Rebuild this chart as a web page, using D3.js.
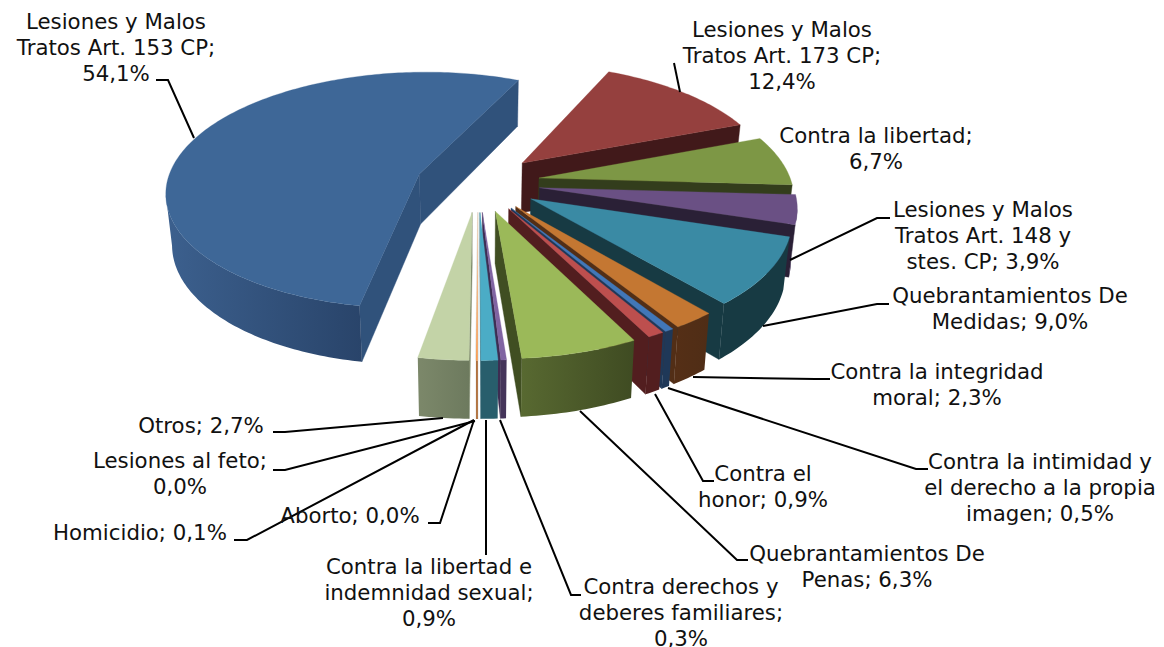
<!DOCTYPE html>
<html>
<head>
<meta charset="utf-8">
<style>
  html, body { margin: 0; padding: 0; background: #fff; overflow: hidden; }
  text { font-family: "DejaVu Sans", Verdana, sans-serif; font-size: 21.3px; fill: #111; }
</style>
<script src="https://cdn.jsdelivr.net/npm/d3@7"></script>
</head>
<body>
<div id="chart"></div>
<script>
// Chart data (clockwise, starting with the big slice)
const categories = [
    "Lesiones y Malos Tratos Art. 153 CP",
    "Lesiones y Malos Tratos Art. 173 CP",
    "Contra la libertad",
    "Lesiones y Malos Tratos Art. 148 y stes. CP",
    "Quebrantamientos De Medidas",
    "Contra la integridad moral",
    "Contra la intimidad y el derecho a la propia imagen",
    "Contra el honor",
    "Quebrantamientos De Penas",
    "Contra derechos y deberes familiares",
    "Contra la libertad e indemnidad sexual",
    "Aborto",
    "Homicidio",
    "Lesiones al feto",
    "Otros",
];
const percents = [54.1, 12.4, 6.7, 3.9, 9.0, 2.3, 0.5, 0.9, 6.3, 0.3, 0.9, 0.02, 0.1, 0.02, 2.7];

// Slice colours: top face, radial wall, outer wall left, outer wall right
const topColors = ["#3e6797", "#95403e", "#7d9745", "#6a5084", "#3a8aa4", "#c47732", "#4177b8", "#bd4f4e", "#9bb959", "#8064a2", "#4bacc6", "#dbeef4", "#f79646", "#dbeef4", "#c3d3a7"];
const sideColors = ["#30527b", "#41191a", "#333d1c", "#2a2036", "#173a43", "#522e16", "#1f3858", "#521e1f", "#404e22", "#3d2d52", "#285e6c", "#eeeeee", "#a8622a", "#eeeeee", "#7a8668"];
const wallLeft = ["#3c608e", "#41191a", "#333d1c", "#46345c", "#173a43", "#552f16", "#1f3858", "#521e1f", "#586931", "#45355a", "#285e6c", "#eeeeee", "#a8622a", "#eeeeee", "#7c886a"];
const wallRight = ["#29446a", "#41191a", "#333d1c", "#3a2b4e", "#173a43", "#4f2d16", "#1f3858", "#521e1f", "#3f4b22", "#45355a", "#285e6c", "#eeeeee", "#a8622a", "#eeeeee", "#6d7a5e"];

// Label text lines, centre x, first baseline
const labelLines = [
    ["Lesiones y Malos", "Tratos Art. 153 CP;"],
    ["Lesiones y Malos", "Tratos Art. 173 CP;"],
    ["Contra la libertad;"],
    ["Lesiones y Malos", "Tratos Art. 148 y", "stes. CP;"],
    ["Quebrantamientos De", "Medidas;"],
    ["Contra la integridad", "moral;"],
    ["Contra la intimidad y", "el derecho a la propia", "imagen;"],
    ["Contra el", "honor;"],
    ["Quebrantamientos De", "Penas;"],
    ["Contra derechos y", "deberes familiares;"],
    ["Contra la libertad e", "indemnidad sexual;"],
    ["Aborto;"],
    ["Homicidio;"],
    ["Lesiones al feto;"],
    ["Otros;"],
];
// Does the percent sit on its own line?
const percentOwnLine = [true, true, true, false, false, false, false, false, false, true, true, false, false, true, false];
const labelX = [116, 782, 876, 983, 1010, 937, 1040, 763, 867, 681, 429, 350, 140, 180, 201];
const labelY = [29, 37, 143, 217, 303, 379, 469, 481, 561, 594, 574, 523, 540, 468, 433];
const leaderLines = [
    [[156, 80], [168, 80], [194, 138]],
    [[674, 63], [680, 92]],
    null,
    [[890, 218], [877, 218], [790, 260]],
    [[889, 304], [877, 304], [763, 326]],
    [[830, 379], [815, 379], [693, 377]],
    [[928, 469], [916, 469], [668, 388]],
    [[714, 481], [703, 481], [655, 394]],
    [[748, 560], [737, 560], [580, 411]],
    [[581, 595], [571, 595], [500, 420]],
    [[486, 555], [486, 420]],
    [[428, 523], [440, 523], [474, 420]],
    [[234, 540], [247, 540], [474, 420]],
    [[273, 470], [285, 470], [475, 421]],
    [[273, 432], [285, 432], [443, 418]],
];

const width = 1164;
const height = 647;

// Pie geometry in the plane, then a small perspective to the screen
const cx = 478;
const cy = 182.5;
const radius = 252.5;
const explode = 62;
const tilt = 0.468;
const persp = 0.00055;
const depth = 50.5;
const startDeg = 190.1;

function project(u, v, bottom) {
    const f = 1 / (1 - persp * v);
    let x = cx + u * f;
    let y = cy + tilt * v * f;
    if (bottom) {
        x = cx + (x - cx) * 0.98;
        y += depth * (1 + (f - 1) * 0.75);
    }
    return [x, y];
}

const pie = d3.pie().sort(null)
    .startAngle(startDeg * Math.PI / 180)
    .endAngle(startDeg * Math.PI / 180 + 2 * Math.PI);
const arcs = pie(percents);

const svg = d3.select("#chart").append("svg")
    .attr("width", width)
    .attr("height", height)
    .style("display", "block");
const defs = svg.append("defs");
const line = d3.line();
const closed = (pts) => line(pts) + "Z";

function sliceShape(d) {
    const mid = (d.startAngle + d.endAngle) / 2;
    const ou = explode * Math.sin(mid);
    const ov = -explode * Math.cos(mid);
    const steps = Math.max(2, Math.ceil((d.endAngle - d.startAngle) * 180 / Math.PI));
    const angles = d3.range(steps + 1).map((i) => d.startAngle + (d.endAngle - d.startAngle) * i / steps);
    const planar = angles.map((a) => [ou + radius * Math.sin(a), ov - radius * Math.cos(a)]);
    return {
        mid,
        apexTop: project(ou, ov, false),
        apexBottom: project(ou, ov, true),
        rimTop: planar.map((p) => project(p[0], p[1], false)),
        rimBottom: planar.map((p) => project(p[0], p[1], true)),
    };
}

// A radial wall shows when the side facing down is outside of the slice
function wallVisible(a, b, inside) {
    const ex = b[0] - a[0];
    const ey = b[1] - a[1];
    const sideIn = ex * (inside[1] - a[1]) - ey * (inside[0] - a[0]);
    return sideIn * ex > 0 ? false : true;
}

// Back slices first
const order = d3.range(arcs.length).sort((i, j) => {
    return Math.cos((arcs[j].startAngle + arcs[j].endAngle) / 2) - Math.cos((arcs[i].startAngle + arcs[i].endAngle) / 2) > 0 ? 1 : -1;
});

const pieGroup = svg.append("g");
order.forEach((i) => {
    const s = sliceShape(arcs[i]);
    const g = pieGroup.append("g");
    const n = s.rimTop.length - 1;
    const inside = s.rimTop[Math.round(n / 2)];

    // radial walls
    [[0, 0], [n, n]].forEach(([a]) => {
        const rimT = s.rimTop[a];
        const rimB = s.rimBottom[a];
        if (wallVisible(s.apexTop, rimT, inside)) {
            g.append("path")
                .attr("d", closed([s.apexTop, rimT, rimB, s.apexBottom]))
                .attr("fill", sideColors[i])
                .attr("stroke", sideColors[i])
                .attr("stroke-width", 0.4);
        }
    });

    // outer wall, only where the rim runs to the left on screen
    const front = d3.range(n).filter((k) => s.rimTop[k + 1][0] < s.rimTop[k][0]);
    if (front.length) {
        const from = front[0];
        const to = front[front.length - 1] + 1;
        const topPts = s.rimTop.slice(from, to + 1);
        const botPts = s.rimBottom.slice(from, to + 1).reverse();
        const gradId = "wall" + i;
        const grad = defs.append("linearGradient").attr("id", gradId);
        grad.append("stop").attr("offset", "0%").attr("stop-color", wallLeft[i]);
        grad.append("stop").attr("offset", "100%").attr("stop-color", wallRight[i]);
        g.append("path")
            .attr("d", closed(topPts.concat(botPts)))
            .attr("fill", `url(#${gradId})`);
    }

    // top face
    g.append("path")
        .attr("d", closed([s.apexTop].concat(s.rimTop)))
        .attr("fill", topColors[i])
        .attr("stroke", topColors[i])
        .attr("stroke-width", 0.3);
});

// Leader lines
svg.append("g")
    .selectAll("path")
    .data(leaderLines.filter((d) => d))
    .enter()
    .append("path")
    .attr("d", (d) => line(d))
    .attr("fill", "none")
    .attr("stroke", "#000")
    .attr("stroke-width", 2);

// Data labels
const fmt = (v) => v.toFixed(1).replace(".", ",") + "%";
const labels = svg.append("g");
categories.forEach((name, i) => {
    const lines = labelLines[i].slice();
    const pct = fmt(percents[i]);
    if (percentOwnLine[i]) {
        lines.push(pct);
    } else {
        lines[lines.length - 1] += " " + pct;
    }
    const text = labels.append("text")
        .attr("text-anchor", "middle")
        .attr("y", labelY[i]);
    lines.forEach((t, k) => {
        text.append("tspan")
            .attr("x", labelX[i])
            .attr("y", labelY[i] + k * 26)
            .text(t);
    });
});
</script>
</body>
</html>
